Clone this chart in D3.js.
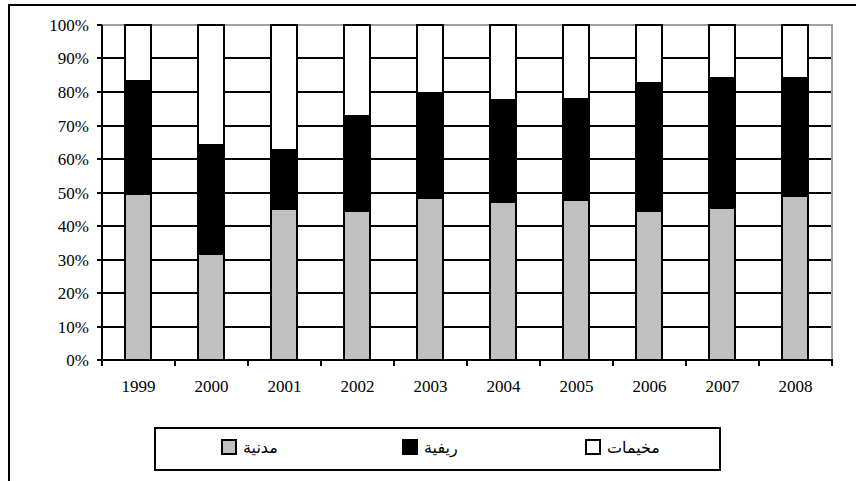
<!DOCTYPE html>
<html>
<head>
<meta charset="utf-8">
<script src="https://cdn.jsdelivr.net/npm/d3@7/dist/d3.min.js"></script>
<style>
  html, body { margin: 0; padding: 0; background: #fff; }
  svg { display: block; }
</style>
</head>
<body>
<svg id="chart" width="856" height="481"></svg>
<script>
// ---- data ----
const years = ["1999","2000","2001","2002","2003","2004","2005","2006","2007","2008"];
const urban = [49.5, 31.6, 45.2, 44.4, 48.4, 47.3, 47.7, 44.4, 45.5, 48.9];   // مدنية
const rural = [33.9, 32.7, 17.4, 28.3, 31.4, 30.4, 30.3, 38.3, 38.7, 35.4];   // ريفية
const camps = [16.6, 35.7, 37.4, 27.3, 20.2, 22.3, 22.0, 17.3, 15.8, 15.7];   // مخيمات
const seriesNames = ["مدنية", "ريفية", "مخيمات"];
const seriesColors = ["#c0c0c0", "#000000", "#ffffff"];
const yTicks = [0, 10, 20, 30, 40, 50, 60, 70, 80, 90, 100];

// ---- layout ----
const svg = d3.select("#chart").attr("shape-rendering", "crispEdges");
const L = 102, R = 832, T = 25, B = 360;

// outer chart border (only top and left visible in frame)
svg.append("path")
  .attr("d", `M9,481 L9,5 L856,5`)
  .attr("fill", "none").attr("stroke", "#000").attr("stroke-width", 2);

const x = d3.scaleBand().domain(years).range([L, R]).paddingInner(0.64).paddingOuter(0.32);
const xb = d3.scaleBand().domain(years).range([L, R]).padding(0);
const y = d3.scaleLinear().domain([0, 100]).range([B, T]);
const yr = v => Math.round(y(v));

// gridlines
svg.append("g").selectAll("line").data(yTicks.filter(t => t > 0 && t < 100)).join("line")
  .attr("x1", L).attr("x2", R)
  .attr("y1", d => yr(d)).attr("y2", d => yr(d))
  .attr("stroke", "#000").attr("stroke-width", 2);

// plot border top & right (gray)
svg.append("path")
  .attr("d", `M${L},${yr(100)} L${R},${yr(100)} L${R},${yr(0)}`)
  .attr("fill", "none").attr("stroke", "#a0a0a0").attr("stroke-width", 2);

// stacked data
const rows = years.map((yy, i) => ({ year: yy, s0: urban[i], s1: rural[i], s2: camps[i] }));
const stack = d3.stack().keys(["s0", "s1", "s2"]);
const stacked = stack(rows);

const g = svg.append("g");
stacked.forEach((layer, li) => {
  g.append("g").selectAll("rect").data(layer).join("rect")
    .attr("x", d => Math.round(x(d.data.year)))
    .attr("width", Math.round(x.bandwidth()))
    .attr("y", d => yr(d[1]))
    .attr("height", d => yr(d[0]) - yr(d[1]))
    .attr("fill", seriesColors[li])
    .attr("stroke", "#000").attr("stroke-width", 2);
});

// y axis
const yAxis = d3.axisLeft(y).tickValues(yTicks).tickFormat(d => d + "%").tickSize(5).tickPadding(8);
const ya = svg.append("g").attr("transform", `translate(${L},0)`).call(yAxis);
ya.select(".domain").attr("stroke", "#000").attr("stroke-width", 2).attr("d", `M0,${yr(100)}V${yr(0)}`);
ya.selectAll(".tick").attr("transform", d => `translate(0,${yr(d)})`);
ya.selectAll(".tick line").attr("stroke", "#000").attr("stroke-width", 2);
ya.selectAll(".tick text")
  .attr("font-family", "'Times New Roman', 'Liberation Serif', serif")
  .attr("font-size", 17).attr("fill", "#000").attr("dy", "0.33em").attr("x", -13);

// x axis line and ticks at boundaries
svg.append("line").attr("x1", L - 1).attr("x2", R + 1).attr("y1", B).attr("y2", B)
  .attr("stroke", "#000").attr("stroke-width", 2);
const bounds = years.map(yy => Math.round(xb(yy))).concat([R]);
svg.append("g").selectAll("line").data(bounds).join("line")
  .attr("x1", d => d).attr("x2", d => d).attr("y1", B).attr("y2", B + 6)
  .attr("stroke", "#000").attr("stroke-width", 2);
svg.append("g").selectAll("text").data(years).join("text")
  .attr("x", d => xb(d) + xb.bandwidth() / 2)
  .attr("y", 392)
  .attr("text-anchor", "middle")
  .attr("font-family", "'Times New Roman', 'Liberation Serif', serif")
  .attr("font-size", 17).attr("fill", "#000")
  .text(d => d);

// legend
svg.append("rect").attr("x", 155).attr("y", 428).attr("width", 565).attr("height", 42)
  .attr("fill", "#fff").attr("stroke", "#000").attr("stroke-width", 2);
const legX = [222, 403, 586];
const lg = svg.append("g").selectAll("g").data(seriesNames).join("g")
  .attr("transform", (d, i) => `translate(${legX[i]},440)`);
lg.append("rect").attr("width", 14).attr("height", 14)
  .attr("fill", (d, i) => seriesColors[i]).attr("stroke", "#000").attr("stroke-width", 2);
lg.append("text").attr("x", 21).attr("y", 13)
  .attr("font-family", "'DejaVu Sans', sans-serif").attr("font-size", 16).attr("fill", "#000")
  .text(d => d);
</script>
</body>
</html>
